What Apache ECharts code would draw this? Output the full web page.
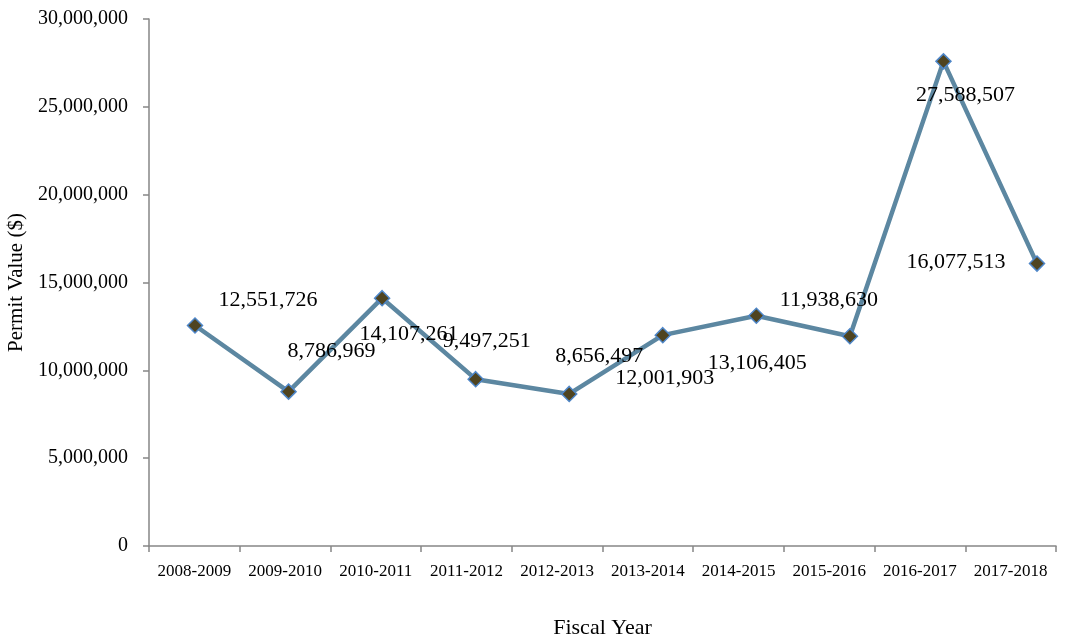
<!DOCTYPE html>
<html>
<head>
<meta charset="utf-8">
<script src="https://cdn.jsdelivr.net/npm/echarts@6/dist/echarts.min.js"></script>
<style>
  html, body { margin: 0; padding: 0; background: #fff; }
  #chart { width: 1084px; height: 641px; }
</style>
</head>
<body>
<div id="chart"></div>
<script>
// Building permit value by fiscal year
const fiscalYears = ['2008-2009', '2009-2010', '2010-2011', '2011-2012', '2012-2013',
                     '2013-2014', '2014-2015', '2015-2016', '2016-2017', '2017-2018'];
const permitValues = [12551726, 8786969, 14107261, 9497251, 8656497,
                      12001903, 13106405, 11938630, 27588507, 16077513];
const yTicks = [0, 5000000, 10000000, 15000000, 20000000, 25000000, 30000000];

// Where each value label sits relative to its point (px)
const labelOffsets = [[73, -25], [43, -40], [27, 36], [11, -38], [30, -38],
                      [2, 43], [1, 47], [-21, -36], [22, 34], [-81, -1]];

const FONT = '"Liberation Serif", "Times New Roman", serif';
const fmt = v => v.toLocaleString('en-US');
const AXIS_GRAY = '#868686';

const chart = echarts.init(document.getElementById('chart'), null, { renderer: 'canvas' });
chart.setOption({
  animation: false,
  backgroundColor: '#ffffff',
  grid: [
    // visible axes frame
    { left: 149, right: 28, top: 19, bottom: 95, containLabel: false, outerBoundsMode: 'none' },
    // span used by the line series
    { left: 195, right: 47, top: 19, bottom: 95, containLabel: false, outerBoundsMode: 'none' }
  ],
  xAxis: [{
    gridIndex: 0,
    type: 'category',
    data: fiscalYears,
    boundaryGap: true,
    name: 'Fiscal Year',
    nameLocation: 'middle',
    nameGap: 71,
    nameTextStyle: { fontFamily: FONT, fontSize: 22, color: '#000' },
    axisLine: { lineStyle: { color: AXIS_GRAY, width: 1.5 } },
    axisTick: { show: true, length: 6, alignWithLabel: false, lineStyle: { color: AXIS_GRAY, width: 1.5 } },
    axisLabel: { fontFamily: FONT, fontSize: 17, color: '#000', margin: 17, interval: 0 },
    splitLine: { show: false }
  }, {
    gridIndex: 1,
    type: 'category',
    data: fiscalYears,
    boundaryGap: false,
    show: false
  }],
  yAxis: [{
    gridIndex: 0,
    type: 'value',
    min: yTicks[0],
    max: yTicks[yTicks.length - 1],
    interval: yTicks[1] - yTicks[0],
    name: 'Permit Value ($)',
    nameLocation: 'middle',
    nameGap: 113,
    nameTextStyle: { fontFamily: FONT, fontSize: 21, color: '#000' },
    axisLine: { show: true, lineStyle: { color: AXIS_GRAY, width: 1.5 } },
    axisTick: { show: true, length: 6, lineStyle: { color: AXIS_GRAY, width: 1.5 } },
    axisLabel: { fontFamily: FONT, fontSize: 20, color: '#000', margin: 21, formatter: v => fmt(v) },
    splitLine: { show: false }
  }, {
    gridIndex: 1,
    type: 'value',
    min: yTicks[0],
    max: yTicks[yTicks.length - 1],
    show: false,
    splitLine: { show: false }
  }],
  series: [{
    type: 'line',
    xAxisIndex: 1,
    yAxisIndex: 1,
    data: permitValues.map((v, i) => ({
      value: v,
      label: { offset: labelOffsets[i] }
    })),
    lineStyle: { color: '#5C87A1', width: 4.5 },
    symbol: 'diamond',
    symbolSize: 15,
    itemStyle: { color: '#4F4420', borderColor: '#4E86C8', borderWidth: 1.5 },
    label: {
      show: true,
      position: 'inside',
      fontFamily: FONT,
      fontSize: 22,
      color: '#000',
      formatter: p => fmt(p.value)
    },
    z: 3
  }]
});
</script>
</body>
</html>
